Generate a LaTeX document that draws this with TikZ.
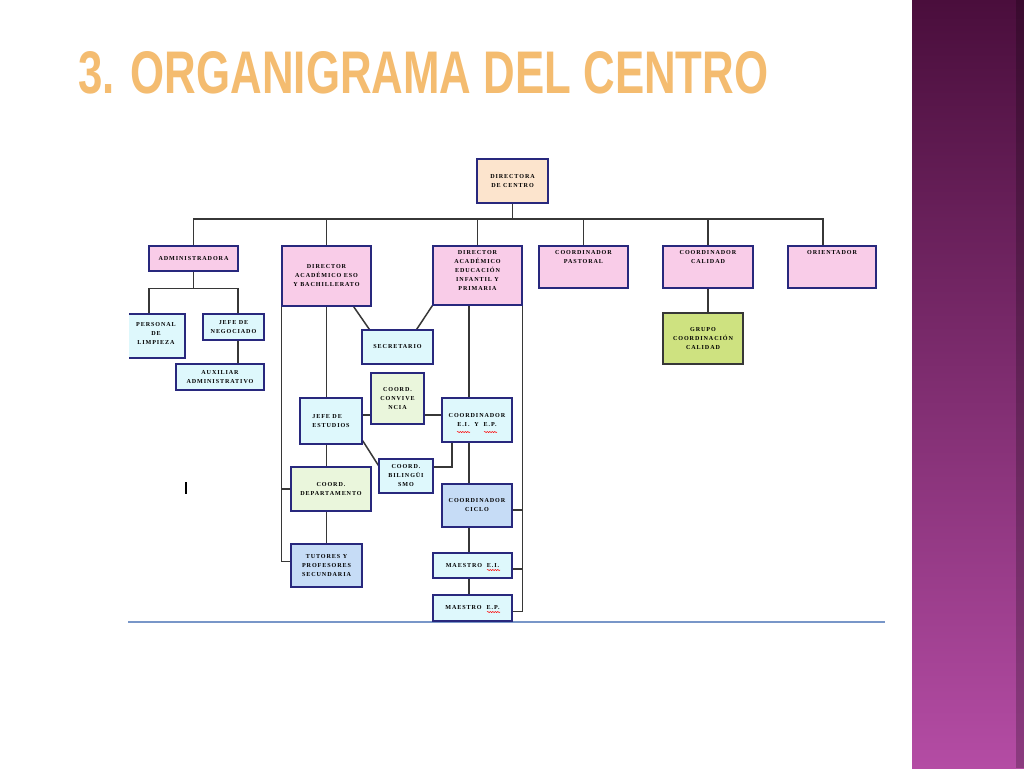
\documentclass[tikz,border=0pt]{standalone}
\usepackage{fontspec}
\setmainfont{Liberation Serif}
\newfontfamily\titlefont{Liberation Sans}
\newfontfamily\boxfont[LetterSpace=15]{Liberation Serif}
\usetikzlibrary{backgrounds,decorations.pathmorphing}

\definecolor{navy}{RGB}{40,40,125}
\definecolor{peach}{RGB}{252,228,205}
\definecolor{pinkb}{RGB}{249,204,232}
\definecolor{cyanb}{RGB}{222,248,252}
\definecolor{greenb}{RGB}{234,246,220}
\definecolor{blueb}{RGB}{198,220,246}
\definecolor{limeb}{RGB}{206,226,128}
\definecolor{lineg}{RGB}{55,55,55}
\definecolor{titleor}{RGB}{244,188,112}
\definecolor{purtop}{RGB}{74,14,60}
\definecolor{purbot}{RGB}{180,76,164}
\definecolor{rulec}{RGB}{120,150,200}

\newcommand\boxtext{\boxfont\bfseries\fontsize{6.1}{9}\selectfont}
\tikzset{
 box/.style={draw=navy, line width=1.3pt, inner sep=0pt, align=center, font=\boxtext},
 conn/.style={draw=lineg, line width=1.5pt},
 txt/.style={inner sep=0pt, align=center, font=\boxtext},
 squig/.style={draw=red, line width=0.5pt, decorate, decoration={snake, amplitude=0.6pt, segment length=2.5pt}},
}
\newcommand\obox[7]{\node[box,fill=#6,minimum width={(#4-#2)*1pt},minimum height={(#5-#3)*1pt}] (#1) at ({(#2+#4)/2},{(#3+#5)/2}) {#7};}

\begin{document}
\begin{tikzpicture}[x=1pt,y=-1pt]
\useasboundingbox (0,0) rectangle (1024,768);
\begin{scope}[on background layer]
\fill[white] (0,0) rectangle (1024,768);
\shade[top color=purtop,bottom color=purbot] (912,0) rectangle (1024,768);
\fill[black,opacity=0.22] (1016,0) rectangle (1024,768);
\end{scope}
% title
\node[anchor=south west, inner sep=0pt, text=titleor] (title) at (78,94)
  {\resizebox{690pt}{42pt}{\titlefont\bfseries 3. ORGANIGRAMA DEL CENTRO}};
% bottom rule and mark
\draw[rulec, line width=1.2pt] (128,622) -- (885,622);
\draw[black, line width=1.6pt] (186,482) -- (186,494);

% boxes
\obox{dir}{477}{159}{548}{203}{peach}{DIRECTORA\\DE CENTRO}
\obox{adm}{149}{246}{238}{271}{pinkb}{ADMINISTRADORA}
\obox{eso}{282}{246}{371}{306}{pinkb}{DIRECTOR\\ACADÉMICO ESO\\Y BACHILLERATO}
\obox{ei}{433}{246}{522}{305}{pinkb}{}
\obox{pas}{539}{246}{628}{288}{pinkb}{}
\obox{cal}{663}{246}{753}{288}{pinkb}{}
\obox{ori}{788}{246}{876}{288}{pinkb}{}
\begin{scope}[box/.append style={draw=lineg}]
\obox{gru}{663}{313}{743}{364}{limeb}{GRUPO\\COORDINACIÓN\\CALIDAD}
\end{scope}
\begin{scope}
\clip (129,0) rectangle (1024,768);
\obox{per}{113}{314}{185}{358}{cyanb}{}
\end{scope}
\obox{neg}{203}{314}{264}{340}{cyanb}{JEFE DE\\NEGOCIADO}
\obox{aux}{176}{364}{264}{390}{cyanb}{AUXILIAR\\ADMINISTRATIVO}
\obox{sec}{362}{330}{433}{364}{cyanb}{SECRETARIO}
\begin{scope}[box/.append style={align=left}]
\obox{jef}{300}{398}{362}{444}{cyanb}{JEFE DE\\ESTUDIOS}
\end{scope}
\obox{conv}{371}{373}{424}{424}{greenb}{COORD.\\CONVIVE\\NCIA}
\obox{cei}{442}{398}{512}{442}{cyanb}{COORDINADOR\\E.I. \ Y \ E.P.}
\obox{bil}{379}{459}{433}{493}{cyanb}{COORD.\\BILINGÜI\\SMO}
\obox{dep}{291}{467}{371}{511}{greenb}{COORD.\\DEPARTAMENTO}
\obox{cic}{442}{484}{512}{527}{blueb}{COORDINADOR\\CICLO}
\obox{tut}{291}{544}{362}{587}{blueb}{TUTORES Y\\PROFESORES\\SECUNDARIA}
\obox{mi}{433}{553}{512}{578}{cyanb}{MAESTRO \ E.I.}
\obox{mp}{433}{595}{512}{621}{cyanb}{MAESTRO \ E.P.}

% texts placed at top of boxes
\node[txt,anchor=north] (eitx) at ([yshift=-5pt]ei.north) {DIRECTOR\\ACADÉMICO\\EDUCACIÓN\\INFANTIL Y\\PRIMARIA};
\node[txt,anchor=north] (pastx) at ([yshift=-5pt]pas.north) {COORDINADOR\\PASTORAL};
\node[txt,anchor=north] (caltx) at ([yshift=-5pt]cal.north) {COORDINADOR\\CALIDAD};
\node[txt,anchor=north] (oritx) at ([yshift=-5pt]ori.north) {ORIENTADOR};
\node[txt] (pertx) at (156,333) {PERSONAL\\DE\\LIMPIEZA};

% spelling squiggles
\draw[squig] (457,432) -- (470,432);
\draw[squig] (484,432) -- (497,432);
\draw[squig] (487,570) -- (500,570);
\draw[squig] (487,612) -- (500,612);

% connectors
\begin{scope}[on background layer]
\coordinate (bus) at (512,219);
\coordinate (oritop) at ([xshift=-9pt]ori.north);
\draw[conn] (dir.south) -- (dir.south |- bus);
\draw[conn] (adm.north) |- (oritop |- bus) -- (oritop);
\draw[conn] (eso.north) -- (eso.north |- bus);
\draw[conn] (ei.north) -- (ei.north |- bus);
\draw[conn] (pas.north) -- (pas.north |- bus);
\draw[conn] (cal.north) -- (cal.north |- bus);
% administration
\coordinate (abus) at ([yshift=-17pt]adm.south);
\coordinate (negx) at ([xshift=4.5pt]neg.north);
\coordinate (negb) at ([xshift=4.5pt]neg.south);
\draw[conn] (adm.south) -- (abus);
\draw[conn] (per.north) |- (negx |- abus) -- (negx);
\draw[conn] (negb) -- (negb |- aux.north);
% secretario
\draw[conn] ([xshift=-18pt]eso.south east) -- ([xshift=8pt]sec.north west);
\draw[conn] (ei.south west) -- ([xshift=-17pt]sec.north east);
% ESO branch
\draw[conn] (eso.south) -- (eso.south |- tut.north);
\draw[conn] (eso.south west) |- ([yshift=4pt]tut.west);
\draw[conn] (eso.south west |- dep.west) -- (dep.west);
\coordinate (h) at ([yshift=6pt]jef.east);
\draw[conn] (h) -- (h -| conv.west);
\draw[conn] (h -| conv.east) -- (h -| cei.west);
\draw[conn] ([yshift=4pt]jef.south east) -- ([yshift=-7pt]bil.north west);
\draw[conn] ([yshift=9pt]bil.east) -| ([xshift=-25pt]cei.south);
% EI branch
\coordinate (vx) at ([xshift=-8.5pt]ei.south);
\draw[conn] (vx) -- (vx |- mp.north);
\draw[conn] (ei.south east) |- ([yshift=-3.5pt]mp.east);
\coordinate (t1) at ([yshift=-4.5pt]cic.east);
\coordinate (t2) at ([yshift=-3.5pt]mi.east);
\draw[conn] (t1) -- (t1 -| ei.south east);
\draw[conn] (t2) -- (t2 -| ei.south east);
% calidad
\draw[conn] (cal.south) -- (cal.south |- gru.north);
\end{scope}
\end{tikzpicture}
\end{document}
